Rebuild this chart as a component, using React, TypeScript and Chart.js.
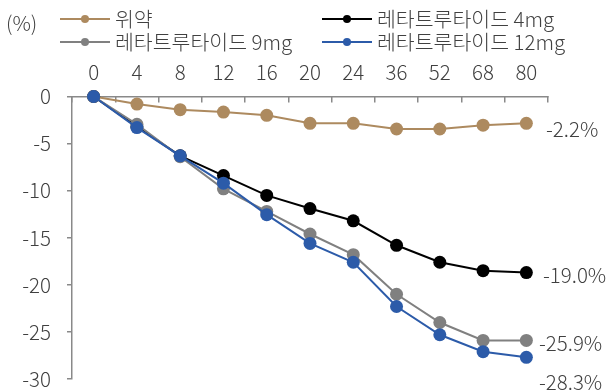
import React, { useEffect, useRef } from "react";
import { Chart, registerables } from "chart.js";

Chart.register(...registerables);

const categories = ["0", "4", "8", "12", "16", "20", "24", "36", "52", "68", "80"];
const placebo = [0, -0.8, -1.4, -1.65, -2.0, -2.85, -2.85, -3.45, -3.45, -3.05, -2.85];
const mg4 = [0, -3.2, -6.3, -8.4, -10.5, -11.9, -13.2, -15.8, -17.6, -18.5, -18.7];
const mg9 = [0, -2.95, -6.4, -9.8, -12.2, -14.6, -16.8, -21.0, -24.0, -25.9, -25.9];
const mg12 = [0, -3.3, -6.3, -9.2, -12.55, -15.6, -17.6, -22.3, -25.3, -27.1, -27.7];
const seriesNames = ["위약", "레타트루타이드 4mg", "레타트루타이드 9mg", "레타트루타이드 12mg"];
const endLabels = ["-2.2%", "-19.0%", "-25.9%", "-28.3%"];
const yUnit = "(%)";

const COLORS = ["#AD8A5F", "#000000", "#808080", "#2C5BA9"];
const FONT = "'Noto Sans CJK KR Light', 'Noto Sans CJK KR', 'Noto Sans', sans-serif";
const TEXT = "#404040";
const FS = 20.5;

const overlay = {
  id: "overlay",
  afterDraw(chart: any) {
    const ctx = chart.ctx;
    ctx.save();
    ctx.font = `300 ${FS}px ${FONT}`;
    ctx.fillStyle = TEXT;
    ctx.textBaseline = "middle";
    ctx.textAlign = "left";
    ctx.fillText(yUnit, 6, 23);
    const slots = [
      { x: 60, y: 19 },
      { x: 322, y: 19 },
      { x: 60, y: 42 },
      { x: 322, y: 42 },
    ];
    [0, 1, 2, 3].forEach((si, k) => {
      const s = slots[k];
      ctx.strokeStyle = COLORS[si];
      ctx.lineWidth = 2;
      ctx.beginPath();
      ctx.moveTo(s.x, s.y);
      ctx.lineTo(s.x + 50, s.y);
      ctx.stroke();
      ctx.fillStyle = COLORS[si];
      ctx.beginPath();
      ctx.arc(s.x + 25, s.y, 4, 0, Math.PI * 2);
      ctx.fill();
      ctx.fillStyle = TEXT;
      ctx.fillText(seriesNames[si], s.x + 55, s.y);
    });
    const pos = [
      { x: 546, y: 129 },
      { x: 543, y: 275 },
      { x: 539, y: 343 },
      { x: 539, y: 382 },
    ];
    endLabels.forEach((t, i) => {
      ctx.fillText(t, pos[i].x, pos[i].y);
    });
    ctx.restore();
  },
};

export default function App() {
  const ref = useRef<HTMLCanvasElement>(null);
  useEffect(() => {
    if (!ref.current) return;
    Chart.defaults.font.family = FONT;
    Chart.defaults.font.size = FS;
    Chart.defaults.color = TEXT;
    const all = [placebo, mg4, mg9, mg12];
    const orders = [3, 2, 1, 0];
    const chart = new Chart(ref.current, {
      type: "line",
      data: {
        labels: categories,
        datasets: all.map((d, i) => ({
          label: seriesNames[i],
          data: d,
          borderColor: COLORS[i],
          backgroundColor: COLORS[i],
          pointBackgroundColor: COLORS[i],
          pointBorderWidth: 0,
          pointRadius: 6.5,
          borderWidth: 2,
          tension: 0,
          order: orders[i],
          clip: false as any,
        })),
      },
      options: {
        responsive: false,
        animation: false,
        layout: { padding: { top: 0, left: 0, right: 58, bottom: 13 } },
        plugins: { legend: { display: false }, tooltip: { enabled: false } },
        scales: {
          x: {
            type: "category",
            position: "top",
            offset: true,
            grid: {
              offset: true,
              drawOnChartArea: false,
              drawTicks: true,
              tickLength: -6,
              color: "#898989",
              lineWidth: 1.5,
            },
            border: { color: "#898989", width: 1.5 },
            ticks: { padding: 18, maxRotation: 0, autoSkip: false, font: { size: FS, weight: 300 as any }, color: TEXT },
            afterFit: (s: any) => {
              s.height = 96.5;
              s.paddingLeft = 0;
              s.paddingRight = 0;
            },
          },
          y: {
            min: -30,
            max: 0,
            ticks: { stepSize: 5, padding: 16, font: { size: FS, weight: 300 as any }, color: TEXT },
            grid: {
              drawOnChartArea: false,
              tickLength: 5,
              color: "#898989",
              lineWidth: 1.5,
            },
            border: { color: "#898989", width: 1.5 },
            afterFit: (s: any) => {
              s.width = 72;
              s.paddingTop = 0;
              s.paddingBottom = 0;
            },
          },
        },
      },
      plugins: [overlay],
    });
    return () => chart.destroy();
  }, []);
  return (
    <div style={{ position: "fixed", left: 0, top: 0, width: 606, height: 392, background: "#fff" }}>
      <canvas ref={ref} width={606} height={392} style={{ width: 606, height: 392 }} />
    </div>
  );
}
